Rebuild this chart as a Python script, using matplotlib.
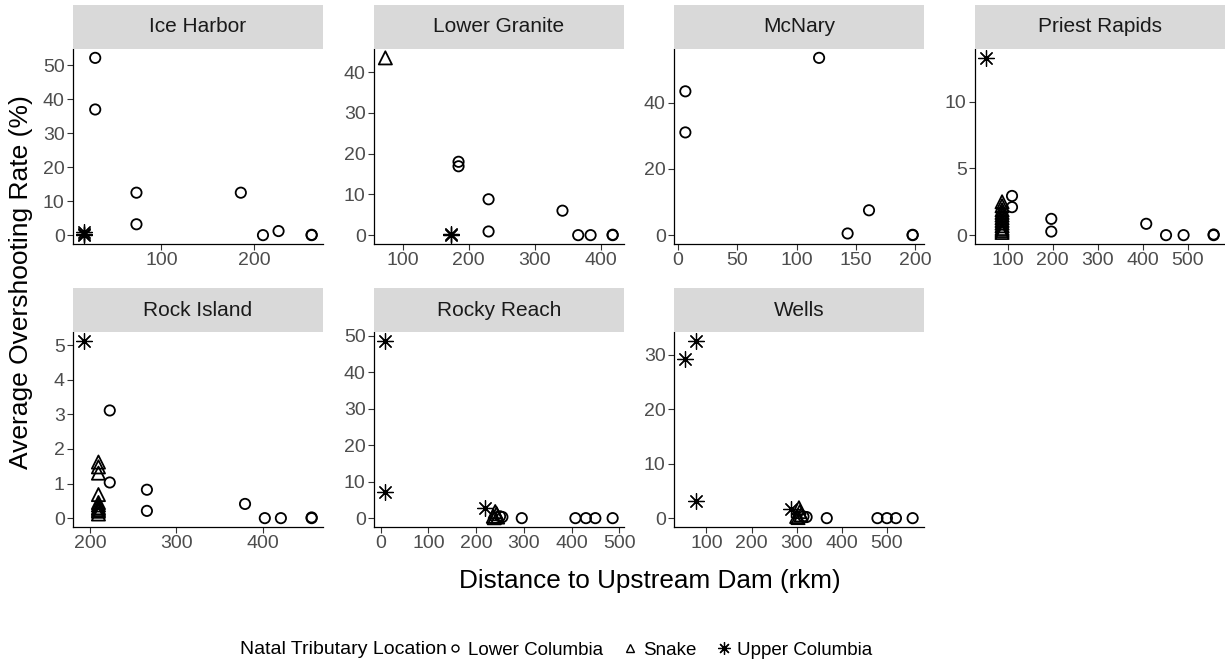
import matplotlib
matplotlib.use('Agg')
import matplotlib.pyplot as plt
from matplotlib.lines import Line2D

plt.rcParams['font.family'] = ['Liberation Sans', 'DejaVu Sans']

# distance to upstream dam (rkm), overshooting rate (%), natal group per point
ice_harbor_x = [28.5, 28.5, 73, 73, 185.6, 209.5, 226.3, 262, 262, 16.8, 16.8, 16.8]
ice_harbor_y = [52.2, 37.0, 12.5, 3.2, 12.5, 0, 1.2, 0, 0.1, 0, 0.4, 0.9]
ice_harbor_g = ['L'] * 9 + ['U'] * 3

lower_granite_x = [73.6, 172.7, 172.7, 184.5, 184.5, 230, 230, 342, 365.8, 384.6, 418, 418]
lower_granite_y = [43.5, 0, 0.2, 18.0, 16.9, 8.8, 0.9, 6.0, 0, 0, 0, 0.1]
lower_granite_g = ['S', 'U', 'U'] + ['L'] * 9

mcnary_x = [6.5, 6.5, 119, 143, 161, 197.7, 197.7]
mcnary_y = [43.4, 31.0, 53.5, 0.5, 7.5, 0, 0.1]
mcnary_g = ['L'] * 7

priest_rapids_x = [52.7] + [87.6] * 12 + [109.7, 109.7, 197, 197, 408, 452, 491, 557.8, 557.8]
priest_rapids_y = [13.3, 0.2, 0.35, 0.5, 0.7, 0.9, 1.1, 1.3, 1.5, 1.7, 1.9, 2.2, 2.5,
                   2.94, 2.1, 1.22, 0.27, 0.85, 0, 0, 0, 0.05]
priest_rapids_g = ['U'] + ['S'] * 12 + ['L'] * 9

rock_island_x = [193.4] + [209.7] * 10 + [222.8, 222.8, 265.8, 265.8, 379.4, 402.3, 420.9, 456.5, 456.5]
rock_island_y = [5.12, 1.62, 1.48, 1.3, 0.68, 0.45, 0.38, 0.3, 0.25, 0.2, 0.12,
                 3.11, 1.03, 0.82, 0.21, 0.41, 0, 0, 0, 0.02]
rock_island_g = ['U'] + ['S'] * 10 + ['L'] * 9

rocky_reach_x = [9.8, 9.8, 219, 236, 240, 243, 245, 238, 250, 255, 295.6, 408, 430, 449.8, 486]
rocky_reach_y = [48.6, 7.2, 2.8, 0.5, 1.8, 1.2, 0.3, 0.1, 0.5, 0.3, 0, 0, 0, 0, 0]
rocky_reach_g = ['U'] * 3 + ['S'] * 5 + ['L'] * 7

wells_x = [53.3, 77.8, 77.8, 286.7, 300, 305, 307, 310, 303, 315, 322, 366.7, 479, 500, 520, 557]
wells_y = [29.1, 32.5, 3.2, 1.6, 0.3, 1.9, 1.2, 0.6, 0.1, 0.3, 0.2, 0, 0, 0, 0, 0]
wells_g = ['U'] * 4 + ['S'] * 5 + ['L'] * 7

dams = ['Ice Harbor', 'Lower Granite', 'McNary', 'Priest Rapids',
        'Rock Island', 'Rocky Reach', 'Wells']
xs = [ice_harbor_x, lower_granite_x, mcnary_x, priest_rapids_x,
      rock_island_x, rocky_reach_x, wells_x]
ys = [ice_harbor_y, lower_granite_y, mcnary_y, priest_rapids_y,
      rock_island_y, rocky_reach_y, wells_y]
gs = [ice_harbor_g, lower_granite_g, mcnary_g, priest_rapids_g,
      rock_island_g, rocky_reach_g, wells_g]

x_ticks = [[100, 200], [100, 200, 300, 400], [0, 50, 100, 150, 200],
           [100, 200, 300, 400, 500], [200, 300, 400],
           [0, 100, 200, 300, 400, 500], [100, 200, 300, 400, 500]]
y_ticks = [[0, 10, 20, 30, 40, 50], [0, 10, 20, 30, 40], [0, 20, 40], [0, 5, 10],
           [0, 1, 2, 3, 4, 5], [0, 10, 20, 30, 40, 50], [0, 10, 20, 30]]

groups = ['L', 'S', 'U']
group_labels = ['Lower Columbia', 'Snake', 'Upper Columbia']
markers = {'L': 'o', 'S': '^', 'U': (8, 2, 0)}
sizes = {'L': 55, 'S': 90, 'U': 130}

W, H = 1225, 665
fig = plt.figure(figsize=(W / 100, H / 100), dpi=100)

col_left = [73, 374, 674, 975]
col_w = 250
row_top = [49, 332]
panel_h = 195
strip_h = 44


def add_box(x0, y0, w, h):
    return fig.add_axes([x0 / W, 1 - (y0 + h) / H, w / W, h / H])


for i, name in enumerate(dams):
    r, c = divmod(i, 4)
    ax = add_box(col_left[c], row_top[r], col_w, panel_h)
    for g in groups:
        px = [x for x, gg in zip(xs[i], gs[i]) if gg == g]
        py = [y for y, gg in zip(ys[i], gs[i]) if gg == g]
        if not px:
            continue
        if g == 'U':
            ax.scatter(px, py, marker=markers[g], s=sizes[g], c='black',
                       linewidths=0.9, zorder=3)
        else:
            ax.scatter(px, py, marker=markers[g], s=sizes[g], facecolors='none',
                       edgecolors='black', linewidths=1.3, zorder=3)
    x0, x1 = min(xs[i]), max(xs[i])
    y0, y1 = min(ys[i]), max(ys[i])
    ax.set_xlim(x0 - 0.05 * (x1 - x0), x1 + 0.05 * (x1 - x0))
    ax.set_ylim(y0 - 0.05 * (y1 - y0), y1 + 0.05 * (y1 - y0))
    ax.set_xticks(x_ticks[i])
    ax.set_yticks(y_ticks[i])
    for s in ['top', 'right']:
        ax.spines[s].set_visible(False)
    for s in ['left', 'bottom']:
        ax.spines[s].set_linewidth(0.9)
    ax.tick_params(length=4, width=0.8, color='#333333', labelcolor='#4D4D4D',
                   labelsize=14, pad=2)
    ax.patch.set_visible(False)

    st = add_box(col_left[c], row_top[r] - strip_h, col_w, strip_h)
    st.set_facecolor('#D9D9D9')
    st.set_xticks([])
    st.set_yticks([])
    for s in st.spines.values():
        s.set_visible(False)
    st.text(0.5, 0.5, name, ha='center', va='center', fontsize=15,
            color='#1A1A1A', transform=st.transAxes)

fig.text(21 / W, 1 - 282 / H, 'Average Overshooting Rate (%)', rotation=90,
         ha='center', va='center', fontsize=19)
fig.text(650 / W, 1 - 581 / H, 'Distance to Upstream Dam (rkm)',
         ha='center', va='center', fontsize=18.8)

fig.text(240 / W, 1 - 650 / H, 'Natal Tributary Location', ha='left',
         va='center', fontsize=14)
handles = [
    Line2D([], [], ls='none', marker='o', ms=5, mfc='none', mec='black', mew=1),
    Line2D([], [], ls='none', marker='^', ms=6, mfc='none', mec='black', mew=1),
    Line2D([], [], ls='none', marker=(8, 2, 0), ms=9, color='black', mew=0.9),
]
fig.legend(handles, group_labels, loc='center left',
           bbox_to_anchor=(446 / W, 1 - 650 / H), ncol=3, frameon=False,
           fontsize=13.5, handlelength=1.0, handletextpad=0.19,
           columnspacing=0.94, borderaxespad=0, borderpad=0)

fig.savefig('out.png', dpi=100)
